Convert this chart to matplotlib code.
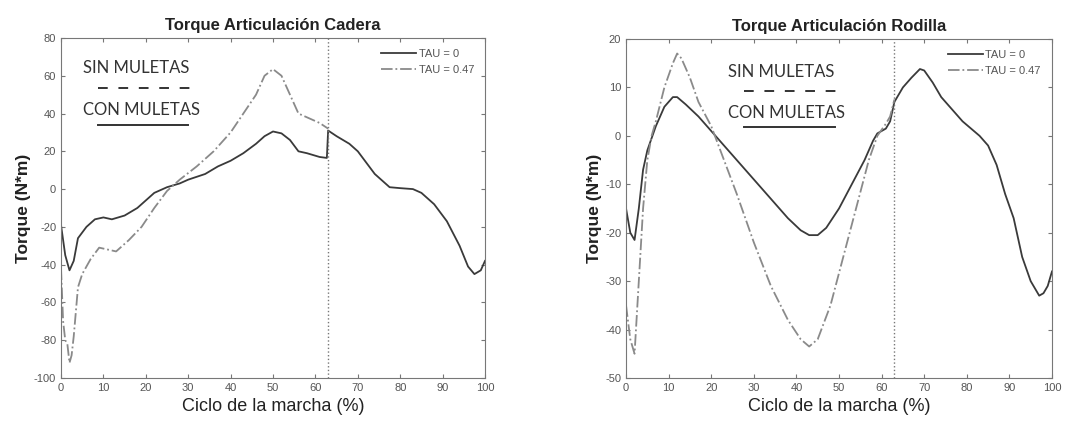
import numpy as np
from matplotlib import pyplot as plt

plt.rcParams['font.family'] = ['Liberation Sans', 'DejaVu Sans']
plt.rcParams['axes.unicode_minus'] = False

# Cadera (hip) torque
cad_x0 = [0, 1, 2, 3, 4, 6, 8, 10, 12, 15, 18, 20, 22, 25, 28, 30, 34, 37, 40, 43, 46, 48,
          50, 52, 54, 56, 58, 61, 62.7, 63, 65, 68, 70, 72, 74, 76, 77.5, 80, 83, 85, 88,
          91, 94, 96, 97.5, 99, 100]
cad_y0 = [-19, -35, -43, -38, -26, -20, -16, -15, -16, -14, -10, -6, -2, 1, 3, 5, 8, 12, 15, 19,
          24, 28, 30.5, 29.5, 26, 20, 19, 17, 16.5, 31, 28, 24, 20, 14, 8, 4, 1, 0.5, 0, -2, -8,
          -17, -30, -41, -45, -43, -38]
cad_x1 = [0, 0.5, 1, 1.5, 2, 2.5, 3, 3.5, 4, 5, 7, 9, 11, 13, 16, 19, 22, 25, 28, 32, 36, 40,
          43, 46, 48, 50, 52, 54, 56, 58, 61, 63]
cad_y1 = [-42, -70, -80, -82, -92, -88, -78, -65, -52, -45, -37, -31, -32, -33, -27, -20, -10,
          -1, 5, 12, 20, 30, 40, 50, 60, 63.5, 60, 50, 40, 38, 35, 32]

# Rodilla (knee) torque
rod_x0 = [0, 1, 2, 3, 4, 5, 7, 9, 11, 12, 14, 17, 20, 23, 26, 30, 34, 38, 41, 43, 45, 47, 50,
          53, 56, 58, 59, 60, 61, 62, 63, 65, 67, 69, 70, 72, 74, 76, 79, 81, 83, 85, 87, 89,
          91, 93, 95, 97, 98, 99, 100]
rod_y0 = [-15, -20, -21.5, -15, -7, -3, 2, 6, 8, 8, 6.5, 4, 1, -2, -5, -9, -13, -17, -19.5,
          -20.5, -20.5, -19, -15, -10, -5, -1, 0.5, 1, 1.5, 3, 7, 10, 12, 13.8, 13.5, 11, 8, 6,
          3, 1.5, 0, -2, -6, -12, -17, -25, -30, -33, -32.5, -31, -28]
rod_x1 = [0, 1, 2, 3, 4, 5, 6, 7, 9, 11, 12, 13, 15, 17, 20, 23, 26, 30, 34, 38, 41, 43, 45,
          48, 51, 54, 57, 59, 61, 62, 63]
rod_y1 = [-35, -42, -45, -30, -15, -5, 0, 3, 10, 15, 17, 16, 12, 7, 2, -5, -12, -22, -31, -38,
          -42, -43.5, -42, -35, -25, -15, -5, 0, 2.5, 4, 7.5]

toe_off = 63
labels = ['TAU = 0', 'TAU = 0.47']

fig = plt.figure(figsize=(10.74, 4.22), dpi=100)
ax1 = fig.add_axes([0.0568, 0.1043, 0.3948, 0.8057])
ax2 = fig.add_axes([0.5829, 0.1043, 0.3966, 0.8033])

panels = [
    (ax1, 'Torque Articulación Cadera', cad_x0, cad_y0, cad_x1, cad_y1, (-100, 80), 20,
     [(0.052, 0.912), (0.087, 0.309, 0.853), (0.052, 0.788), (0.087, 0.300, 0.744)]),
    (ax2, 'Torque Articulación Rodilla', rod_x0, rod_y0, rod_x1, rod_y1, (-50, 20), 10,
     [(0.239, 0.903), (0.277, 0.498, 0.847), (0.239, 0.782), (0.277, 0.491, 0.740)]),
]

for ax, title, x0, y0, x1, y1, ylim, ystep, notes in panels:
    ax.plot(x0, y0, color='#3a3a3a', lw=1.3, label=labels[0])
    ax.plot(x1, y1, color='#8a8a8a', lw=1.3, ls='-.', label=labels[1])
    ax.axvline(toe_off, color='#777777', ls=':', lw=1)
    ax.set_xlim(0, 100)
    ax.set_ylim(*ylim)
    ax.set_xticks(np.arange(0, 101, 10))
    ax.set_yticks(np.arange(ylim[0], ylim[1] + 1, ystep))
    ax.tick_params(direction='in', top=True, right=True, length=3, labelsize=8,
                   labelcolor='#555555', color='#777777')
    for s in ax.spines.values():
        s.set_color('#777777')
    ax.set_title(title, fontsize=12, fontweight='bold', color='#222222', pad=6)
    ax.set_xlabel('Ciclo de la marcha (%)', fontsize=13, color='#222222', labelpad=4)
    ax.set_ylabel('Torque (N*m)', fontsize=12.5, fontweight='bold', color='#222222', labelpad=2)
    ax.legend(loc='upper right', frameon=False, fontsize=8, handlelength=3.2,
              labelcolor='#555555', borderaxespad=0.6, handletextpad=0.2, labelspacing=0.5)

    (tx, ty), (dx0, dx1, dy), (cx, cy), (sx0, sx1, sy) = notes
    ax.text(tx, ty, 'SIN MULETAS', transform=ax.transAxes, fontsize=12, family='Lato',
            color='#333333', va='center')
    ax.plot([dx0, dx1], [dy, dy], transform=ax.transAxes, color='#333333', lw=1.4,
            ls=(0, (5, 5.5)))
    ax.text(cx, cy, 'CON MULETAS', transform=ax.transAxes, fontsize=12, family='Lato',
            color='#333333', va='center')
    ax.plot([sx0, sx1], [sy, sy], transform=ax.transAxes, color='#333333', lw=1.4)

fig.savefig('out.png', dpi=100)
